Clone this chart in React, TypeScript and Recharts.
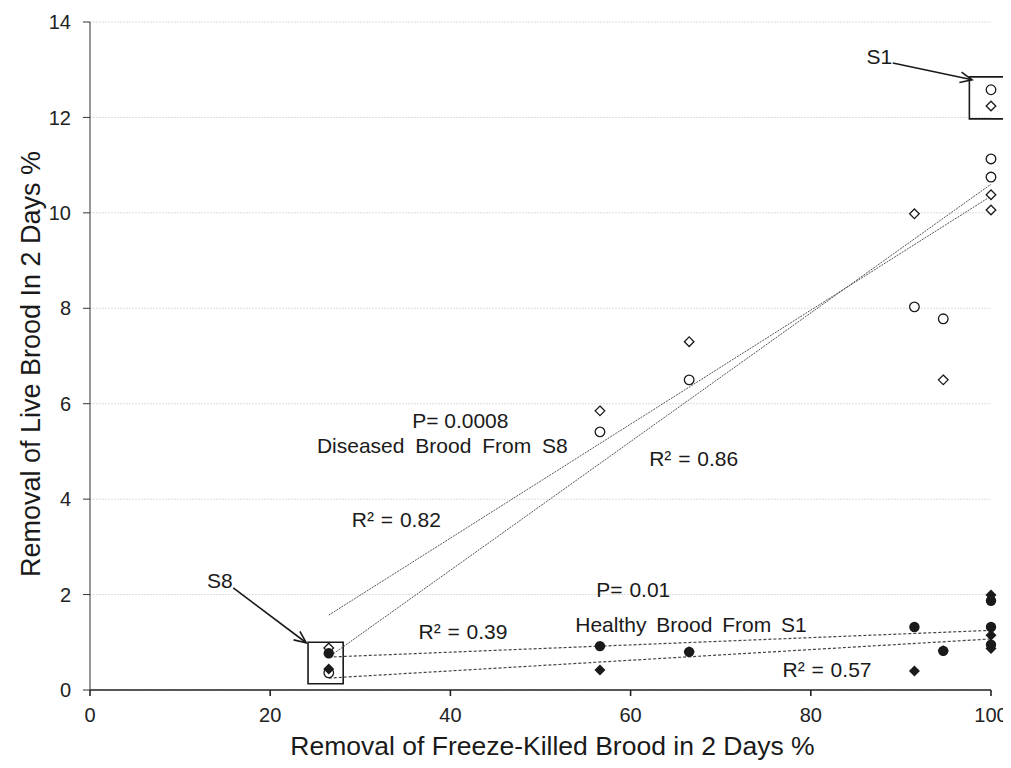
import {
  ScatterChart,
  Scatter,
  XAxis,
  YAxis,
  CartesianGrid,
  ReferenceLine,
  ReferenceArea,
  ReferenceDot,
} from "recharts";

// removal of freeze-killed brood (%), shared by all four series
const freezeKilled = [26.5, 56.6, 66.5, 91.5, 94.7, 100, 100, 100];

// removal of live brood (%)
const diseasedCircles = [0.36, 5.41, 6.5, 8.03, 7.78, 12.58, 11.13, 10.75];
const diseasedDiamonds = [0.88, 5.85, 7.3, 9.98, 6.5, 12.24, 10.38, 10.06];
const healthyCircles = [0.77, 0.92, 0.8, 1.32, 0.82, 1.87, 1.32, 0.95];
const healthyDiamonds = [0.44, 0.42, 0.8, 0.4, 0.82, 1.99, 1.15, 0.87];

const xTicks = [0, 20, 40, 60, 80, 100];
const yTicks = [0, 2, 4, 6, 8, 10, 12, 14];

// trend lines: [x1, y1, x2, y2]
const diseasedTrends = [
  [26.5, 1.57, 100, 10.35],
  [26.5, 0.69, 100, 10.6],
];
const healthyTrends = [
  [26.5, 0.69, 100, 1.25],
  [26.5, 0.25, 100, 1.07],
];

const notes = [
  { x: 41.1, y: 5.64, text: "P= 0.0008", gap: 0 },
  { x: 39.1, y: 5.12, text: "Diseased Brood From S8", gap: 5 },
  { x: 67.0, y: 4.86, text: "R² = 0.86", gap: 1 },
  { x: 34.0, y: 3.58, text: "R² = 0.82", gap: 1 },
  { x: 60.3, y: 2.1, text: "P= 0.01", gap: 1 },
  { x: 66.7, y: 1.38, text: "Healthy Brood From S1", gap: 4 },
  { x: 41.4, y: 1.23, text: "R² = 0.39", gap: 1 },
  { x: 81.8, y: 0.44, text: "R² = 0.57", gap: 1 },
  { x: 87.6, y: 13.27, text: "S1", gap: 0 },
  { x: 14.4, y: 2.29, text: "S8", gap: 0 },
];

// highlight boxes [x1, x2, y1, y2] and arrows [x1, y1, x2, y2]
const boxes = [
  [24.2, 28.1, 0.13, 1.0],
  [97.6, 101.9, 11.97, 12.85],
];
const arrows = [
  [89.1, 13.14, 97.9, 12.79],
  [15.9, 2.14, 24.0, 0.99],
];

const toPoints = (ys: number[]) => freezeKilled.map((x, i) => ({ x, y: ys[i] }));

const font = "Arial, 'Liberation Sans', sans-serif";
const ink = "#1a1a1a";

const OpenCircle = (p: any) => (
  <circle cx={p.cx} cy={p.cy} r={4.8} fill="#fff" stroke={ink} strokeWidth={1.3} />
);
const OpenDiamond = (p: any) => (
  <path
    d={`M${p.cx},${p.cy - 4.8}L${p.cx + 4.8},${p.cy}L${p.cx},${p.cy + 4.8}L${p.cx - 4.8},${p.cy}Z`}
    fill="#fff"
    stroke={ink}
    strokeWidth={1.3}
  />
);
const FilledCircle = (p: any) => <circle cx={p.cx} cy={p.cy} r={5.2} fill={ink} />;
const FilledDiamond = (p: any) => (
  <path
    d={`M${p.cx},${p.cy - 5.5}L${p.cx + 5.5},${p.cy}L${p.cx},${p.cy + 5.5}L${p.cx - 5.5},${p.cy}Z`}
    fill={ink}
  />
);

const Arrow = (p: any) => {
  const { x1, y1, x2, y2 } = p;
  const a = Math.atan2(y2 - y1, x2 - x1);
  const len = 13;
  const spread = 0.42;
  const ax = x2 - len * Math.cos(a - spread);
  const ay = y2 - len * Math.sin(a - spread);
  const bx = x2 - len * Math.cos(a + spread);
  const by = y2 - len * Math.sin(a + spread);
  return (
    <g stroke={ink} strokeWidth={1.6} fill="none">
      <line x1={x1} y1={y1} x2={x2} y2={y2} />
      <path d={`M${ax},${ay}L${x2},${y2}L${bx},${by}`} />
    </g>
  );
};

const Note = (text: string, gap: number) => (p: any) => (
  <text
    x={p.cx}
    y={p.cy}
    textAnchor="middle"
    dominantBaseline="central"
    fontFamily={font}
    fontSize={21}
    fill={ink}
    style={{ wordSpacing: gap }}
  >
    {text}
  </text>
);

export default function App() {
  return (
    <ScatterChart
      width={1003}
      height={758}
      margin={{ top: 14, right: 20, left: 0, bottom: 6 }}
      style={{ fontFamily: font }}
    >
      <CartesianGrid vertical={false} stroke="#dcdcdc" strokeDasharray="2 1" />
      <XAxis
        type="number"
        dataKey="x"
        domain={[0, 100]}
        ticks={xTicks}
        height={70}
        tickSize={6}
        tickMargin={12}
        stroke="#222"
        strokeWidth={1.6}
        tick={{ fill: "#222", fontSize: 20, fontFamily: font }}
        label={{
          value: "Removal of Freeze-Killed Brood in 2 Days %",
          position: "center",
          dx: 12,
          dy: 21,
          fill: ink,
          fontSize: 26.5,
          fontFamily: font,
        }}
      />
      <YAxis
        type="number"
        dataKey="y"
        domain={[0, 14]}
        ticks={yTicks}
        width={82}
        tickSize={7}
        tickMargin={12}
        stroke="#333"
        tick={{ fill: "#222", fontSize: 20, fontFamily: font }}
        label={{
          value: "Removal of Live Brood In 2 Days %",
          position: "center",
          angle: -90,
          dx: -19,
          dy: 8,
          fill: ink,
          fontSize: 27,
          fontFamily: font,
        }}
      />

      {diseasedTrends.map(([x1, y1, x2, y2], i) => (
        <ReferenceLine
          key={`dt${i}`}
          segment={[{ x: x1, y: y1 }, { x: x2, y: y2 }]}
          stroke="#555"
          strokeWidth={1}
          strokeDasharray="2 1"
        />
      ))}
      {healthyTrends.map(([x1, y1, x2, y2], i) => (
        <ReferenceLine
          key={`ht${i}`}
          segment={[{ x: x1, y: y1 }, { x: x2, y: y2 }]}
          stroke="#444"
          strokeWidth={1.2}
          strokeDasharray="3 2"
        />
      ))}

      {boxes.map(([x1, x2, y1, y2], i) => (
        <ReferenceArea
          key={`b${i}`}
          x1={x1}
          x2={x2}
          y1={y1}
          y2={y2}
          fill="none"
          fillOpacity={0}
          stroke={ink}
          strokeWidth={1.6}
          ifOverflow="visible"
        />
      ))}
      {arrows.map(([x1, y1, x2, y2], i) => (
        <ReferenceLine
          key={`a${i}`}
          segment={[{ x: x1, y: y1 }, { x: x2, y: y2 }]}
          ifOverflow="visible"
          shape={Arrow}
        />
      ))}

      <Scatter data={toPoints(diseasedDiamonds)} shape={OpenDiamond} isAnimationActive={false} />
      <Scatter data={toPoints(diseasedCircles)} shape={OpenCircle} isAnimationActive={false} />
      <Scatter data={toPoints(healthyCircles)} shape={FilledCircle} isAnimationActive={false} />
      <Scatter data={toPoints(healthyDiamonds)} shape={FilledDiamond} isAnimationActive={false} />

      {notes.map((n, i) => (
        <ReferenceDot
          key={`n${i}`}
          x={n.x}
          y={n.y}
          r={0}
          ifOverflow="visible"
          shape={Note(n.text, n.gap)}
        />
      ))}
    </ScatterChart>
  );
}
